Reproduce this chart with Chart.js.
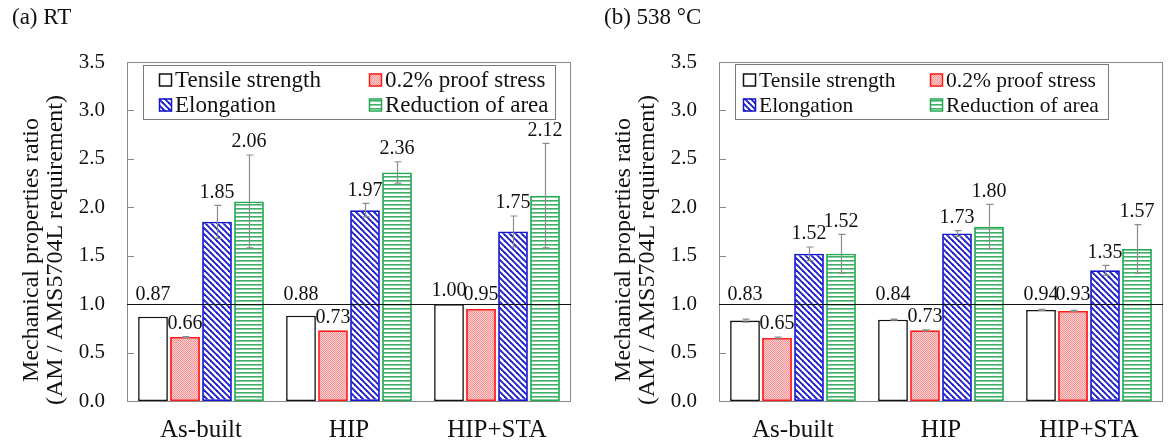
<!DOCTYPE html>
<html>
<head>
<meta charset="utf-8">
<script src="https://cdn.jsdelivr.net/npm/chart.js@4.4.1/dist/chart.umd.min.js"></script>
<style>
  html, body { margin: 0; padding: 0; background: #fff; width: 1169px; height: 443px; overflow: hidden; }
  .panel { position: absolute; top: 0; height: 443px; }
  .tag { position: absolute; font-family: "Liberation Serif", "Times New Roman", serif; font-size: 23px; color: #111; white-space: nowrap; }
  canvas { display: block; }
</style>
</head>
<body>
<div class="panel" style="left:0;width:580px"><canvas id="chartRT"></canvas></div>
<div class="panel" style="left:592px;width:577px"><canvas id="chart538"></canvas></div>
<div class="tag" style="left:12px;top:4px">(a) RT</div>
<div class="tag" style="left:604px;top:4px">(b) 538 °C</div>

<script>
// ---- data ----
const categories = ['As-built', 'HIP', 'HIP+STA'];
const seriesNames = ['Tensile strength', '0.2% proof stress', 'Elongation', 'Reduction of area'];
const yTickValues = [0, 0.5, 1.0, 1.5, 2.0, 2.5, 3.0, 3.5];
const requirementLevel = 1.0;
const yTitleLines = ['Mechanical properties ratio', '(AM / AMS5704L requirement)'];

// room temperature
const rtTensile = [0.87, 0.88, 1.00];
const rtProof   = [0.66, 0.73, 0.95];
const rtElong   = [1.85, 1.97, 1.75];
const rtArea    = [2.06, 2.36, 2.12];
const rtTensileErr = [0, 0, 0];
const rtProofErr   = [0.005, 0, 0];
const rtElongErr   = [0.17, 0.07, 0.16];
const rtAreaErr    = [0.48, 0.11, 0.54];

// 538 °C
const htTensile = [0.83, 0.84, 0.94];
const htProof   = [0.65, 0.73, 0.93];
const htElong   = [1.52, 1.73, 1.35];
const htArea    = [1.52, 1.80, 1.57];
const htTensileErr = [0.015, 0.005, 0.005];
const htProofErr   = [0.01, 0.005, 0.005];
const htElongErr   = [0.07, 0.03, 0.05];
const htAreaErr    = [0.20, 0.23, 0.25];

// ---- drawing helpers ----
const SERIF = '"Liberation Serif", "Times New Roman", serif';
Chart.defaults.font.family = SERIF;
Chart.defaults.color = '#111';

function tile(w, h, paint) {
  const c = document.createElement('canvas');
  c.width = w; c.height = h;
  paint(c.getContext('2d'));
  return c;
}

function seriesStyles(ctx) {
  const dots = tile(2, 2, g => {
    g.fillStyle = '#fbcfcf'; g.fillRect(0, 0, 2, 2);
    g.fillStyle = '#f29494'; g.fillRect(0, 0, 1, 1); g.fillRect(1, 1, 1, 1);
  });
  const diag = tile(6, 6, g => {
    g.fillStyle = '#fff'; g.fillRect(0, 0, 6, 6);
    g.strokeStyle = '#1c1cc8'; g.lineWidth = 1.9;
    for (const x0 of [-6, 0, 6]) {
      g.beginPath(); g.moveTo(x0 - 1, -1); g.lineTo(x0 + 7, 7); g.stroke();
    }
  });
  const horiz = tile(4, 4, g => {
    g.fillStyle = '#fff'; g.fillRect(0, 0, 4, 4);
    g.fillStyle = '#3fb068'; g.fillRect(0, 0, 4, 1.6);
  });
  return [
    { fill: '#ffffff', stroke: '#111111', bw: 1.6 },
    { fill: ctx.createPattern(dots, 'repeat'), stroke: '#ff1a1a', bw: 1.8 },
    { fill: ctx.createPattern(diag, 'repeat'), stroke: '#1515d0', bw: 1.8 },
    { fill: ctx.createPattern(horiz, 'repeat'), stroke: '#1fa84f', bw: 1.8 }
  ];
}

function makeChart(canvasId, width, values, errors, legendCfg) {
  const el = document.getElementById(canvasId);
  el.width = width; el.height = 443;
  el.style.width = width + 'px'; el.style.height = '443px';
  const ctx = el.getContext('2d');
  const styles = seriesStyles(ctx);

  const datasets = seriesNames.map((name, i) => ({
    label: name,
    data: values[i],
    backgroundColor: styles[i].fill,
    borderColor: styles[i].stroke,
    borderWidth: styles[i].bw,
    borderSkipped: false,
    barPercentage: 0.93,
    categoryPercentage: 0.865
  }));

  // plot frame and inward tick marks
  const framePlugin = {
    id: 'frame',
    beforeDatasetsDraw(chart) {
      const a = chart.chartArea, y = chart.scales.y, g = chart.ctx;
      g.save();
      g.strokeStyle = '#8a8a8a'; g.lineWidth = 1;
      g.strokeRect(Math.round(a.left) + 0.5, Math.round(a.top) + 0.5,
                   Math.round(a.right - a.left) - 1, Math.round(a.bottom - a.top));
      g.beginPath();
      yTickValues.forEach(v => {
        const py = Math.round(y.getPixelForValue(v)) + 0.5;
        g.moveTo(a.left, py); g.lineTo(a.left + 7, py);
      });
      g.stroke();
      g.restore();
    }
  };

  // requirement line, error bars, value labels, legend, axis title
  const overlayPlugin = {
    id: 'overlay',
    afterDatasetsDraw(chart) {
      const a = chart.chartArea, ys = chart.scales.y, g = chart.ctx;
      const lineY = Math.round(ys.getPixelForValue(requirementLevel)) + 0.5;
      g.save();
      g.strokeStyle = '#111'; g.lineWidth = 1.2;
      g.beginPath(); g.moveTo(a.left, lineY); g.lineTo(a.right, lineY); g.stroke();

      // error bars
      g.strokeStyle = '#8c8c8c'; g.lineWidth = 1.2;
      const tops = [];
      chart.data.datasets.forEach((ds, di) => {
        const meta = chart.getDatasetMeta(di);
        tops[di] = [];
        meta.data.forEach((bar, j) => {
          const v = ds.data[j], e = errors[di][j];
          const yt = ys.getPixelForValue(v + e);
          tops[di][j] = yt;
          if (e <= 0) return;
          const yb = ys.getPixelForValue(v - e);
          const x = Math.round(bar.x) + 0.5;
          g.beginPath();
          g.moveTo(x, yt); g.lineTo(x, yb);
          g.moveTo(x - 3, yt); g.lineTo(x + 4, yt);
          g.moveTo(x - 3, yb); g.lineTo(x + 4, yb);
          g.stroke();
        });
      });

      // value labels
      g.fillStyle = '#111';
      g.font = '20px ' + SERIF;
      g.textAlign = 'center'; g.textBaseline = 'middle';
      chart.data.datasets.forEach((ds, di) => {
        const meta = chart.getDatasetMeta(di);
        meta.data.forEach((bar, j) => {
          let yc = tops[di][j] - 13;
          if (yc - 9 <= lineY && yc + 9 >= lineY) yc = lineY - 10;
          g.fillText(ds.data[j].toFixed(2), bar.x, yc);
        });
      });

      // legend
      const L = legendCfg;
      g.fillStyle = '#fff';
      g.fillRect(L.x, L.y, L.w, L.h);
      g.strokeStyle = '#7a7a7a'; g.lineWidth = 1;
      g.strokeRect(L.x + 0.5, L.y + 0.5, L.w, L.h);
      g.font = L.font + 'px ' + SERIF;
      g.textAlign = 'left'; g.textBaseline = 'middle';
      chart.data.datasets.forEach((ds, di) => {
        const col = di % 2, row = Math.floor(di / 2);
        const mx = L.x + (col ? L.col2 : L.col1);
        const cy = L.y + L.row1 + row * L.rowGap;
        g.fillStyle = ds.backgroundColor;
        g.fillRect(mx, cy - 6.5, 13, 13);
        g.strokeStyle = ds.borderColor; g.lineWidth = 1.5;
        g.strokeRect(mx + 0.5, cy - 6, 12, 12);
        g.fillStyle = '#111';
        g.fillText(ds.label, mx + 16, cy + 1);
      });

      // y-axis title
      g.font = L.titleFont + 'px ' + SERIF;
      g.textAlign = 'center'; g.textBaseline = 'middle';
      g.fillStyle = '#111';
      yTitleLines.forEach((t, k) => {
        g.save();
        g.translate(L.titleX[k], L.titleY);
        g.rotate(-Math.PI / 2);
        g.fillText(t, 0, 0);
        g.restore();
      });
      g.restore();
    }
  };

  return new Chart(ctx, {
    type: 'bar',
    data: { labels: categories, datasets },
    options: {
      responsive: false,
      animation: false,
      layout: { padding: { top: 62, left: 0, right: width - 571, bottom: 0 } },
      plugins: { legend: { display: false }, tooltip: { enabled: false } },
      scales: {
        x: {
          grid: { display: false, drawTicks: false },
          border: { display: false },
          ticks: { font: { size: 25 }, color: '#111', padding: 14 },
          afterFit: s => { s.height = 42; }
        },
        y: {
          min: 0, max: 3.5,
          afterBuildTicks: s => { s.ticks = yTickValues.map(v => ({ value: v })); },
          grid: { display: false, drawTicks: false },
          border: { display: false },
          ticks: { font: { size: 21 }, color: '#111', padding: 22,
                   callback: v => Number(v).toFixed(1) },
          afterFit: s => { s.width = 127; }
        }
      }
    },
    plugins: [framePlugin, overlayPlugin]
  });
}

makeChart('chartRT', 580,
  [rtTensile, rtProof, rtElong, rtArea],
  [rtTensileErr, rtProofErr, rtElongErr, rtAreaErr],
  { x: 143, y: 65, w: 412, h: 54, col1: 16, col2: 226, row1: 15, rowGap: 25, font: 23,
    titleFont: 24, titleX: [32, 56], titleY: 250 });

makeChart('chart538', 577,
  [htTensile, htProof, htElong, htArea],
  [htTensileErr, htProofErr, htElongErr, htAreaErr],
  { x: 143, y: 64, w: 373, h: 55, col1: 8, col2: 195, row1: 16, rowGap: 25, font: 21.5,
    titleFont: 24, titleX: [32, 56], titleY: 250 });
</script>
</body>
</html>
